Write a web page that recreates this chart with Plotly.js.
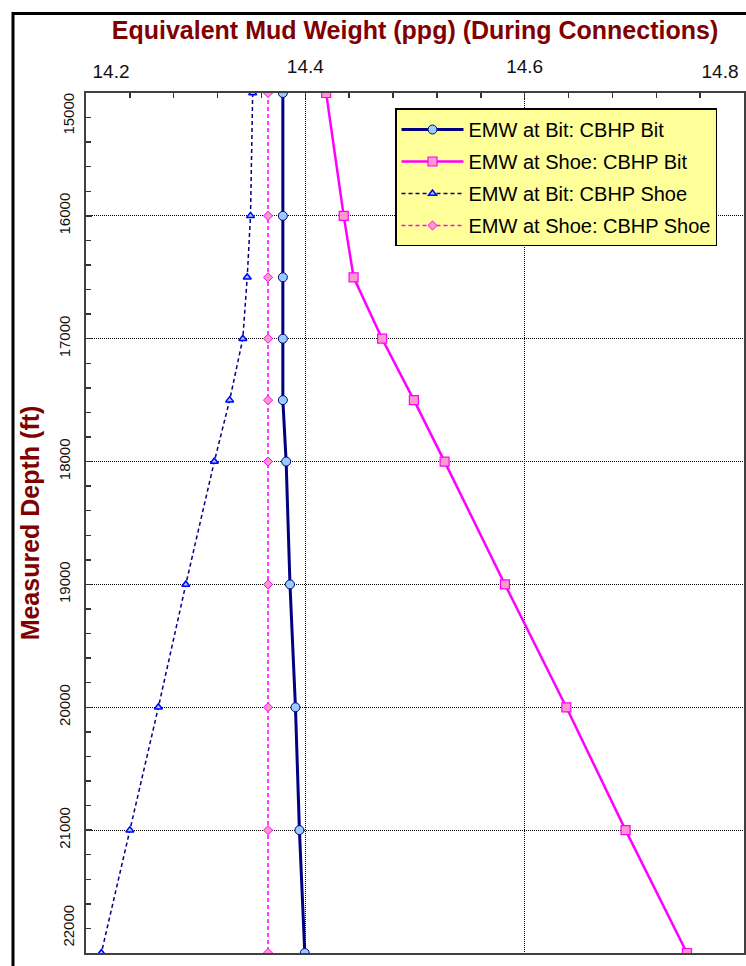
<!DOCTYPE html>
<html>
<head>
<meta charset="utf-8">
<script src="https://cdn.plot.ly/plotly-3.0.1.min.js"></script>
<style>html,body{margin:0;padding:0;background:#fff;}#chart{width:746px;height:966px;}</style>
</head>
<body>
<div id="chart"></div>
<script>
// ---- data ----
const depths = [15000, 16000, 16500, 17000, 17500, 18000, 19000, 20000, 21000, 22000];
const emwBitCbhpBit   = [14.3795, 14.3795, 14.3795, 14.3795, 14.3795, 14.3825, 14.386, 14.391, 14.3946, 14.3995];
const emwShoeCbhpBit  = [14.419, 14.435, 14.444, 14.470, 14.499, 14.527, 14.582, 14.638, 14.692, 14.748];
const emwBitCbhpShoe  = [14.352, 14.350, 14.347, 14.343, 14.331, 14.317, 14.291, 14.266, 14.240, 14.214];
const emwShoeCbhpShoe = [14.366, 14.366, 14.366, 14.366, 14.366, 14.366, 14.366, 14.366, 14.366, 14.366];
const seriesNames = ['EMW at Bit: CBHP Bit', 'EMW at Shoe: CBHP Bit', 'EMW at Bit: CBHP Shoe', 'EMW at Shoe: CBHP Shoe'];
const xInnerTicks = [14.4, 14.6];
const xEdgeTicks = [14.2, 14.8];
const yInnerTicks = [16000, 17000, 18000, 19000, 20000, 21000];
const yEdgeTicks = [15000, 22000];
const chartTitle = 'Equivalent Mud Weight (ppg) (During Connections)';
const yTitle = 'Measured Depth (ft)';

const FONT = 'Arial, "Liberation Sans", sans-serif';
const xRange = [14.2, 14.8];
const yRange = [22000, 15000];

const traces = [
  {x: emwBitCbhpBit, y: depths, name: seriesNames[0], legendgroup: 'a', mode: 'lines+markers',
   line: {color: '#000080', width: 3},
   marker: {symbol: 'circle', size: 9, color: '#99CCFF', line: {color: '#000080', width: 1}}},
  {x: emwShoeCbhpBit, y: depths, name: seriesNames[1], legendgroup: 'b', mode: 'lines+markers',
   line: {color: '#FF00FF', width: 2.5},
   marker: {symbol: 'square', size: 9, color: '#FF99CC', line: {color: '#FF00FF', width: 1.2}}},
  {x: emwBitCbhpShoe, y: depths, name: seriesNames[2], legendgroup: 'c', mode: 'lines+markers',
   line: {color: '#000080', width: 1.5, dash: '4px,3px'},
   marker: {symbol: 'triangle-up', size: 7, color: '#99CCFF', line: {color: '#0000FF', width: 1.5}}},
  {x: emwShoeCbhpShoe, y: depths, name: seriesNames[3], legendgroup: 'd', mode: 'lines+markers',
   line: {color: '#FF00FF', width: 1.5, dash: '4px,3px'},
   marker: {symbol: 'diamond', size: 7, color: '#FF99CC', line: {color: '#FF00FF', width: 1}}}
];
// empty carrier traces so the edge-label overlay axes are drawn
[['x2', 'y'], ['x3', 'y'], ['x', 'y2'], ['x', 'y3']].forEach(function (p) {
  traces.push({x: [null], y: [null], xaxis: p[0], yaxis: p[1], mode: 'markers',
               showlegend: false, hoverinfo: 'skip'});
});

const tickFontX = {family: FONT, size: 19, color: '#111'};
const tickFontY = {family: FONT, size: 15, color: '#111'};

const baseX = {range: xRange, side: 'top', zeroline: false, fixedrange: true};
const baseY = {range: yRange, zeroline: false, fixedrange: true, tickangle: -90};

const layout = {
  width: 746, height: 966,
  margin: {l: 86, r: 2, t: 92.5, b: 13, pad: 0},
  paper_bgcolor: '#fff', plot_bgcolor: '#fff',
  showlegend: true,
  xaxis: Object.assign({}, baseX, {
    tickmode: 'array', tickvals: xInnerTicks, ticktext: xInnerTicks.map(v => v.toFixed(1)),
    ticks: 'inside', ticklen: 6, tickwidth: 1.5, tickcolor: '#333',
    minor: {tickmode: 'linear', tick0: 14.2, dtick: 0.04, ticks: 'inside', ticklen: 5, tickwidth: 1.5, tickcolor: '#333', showgrid: false},
    showgrid: true, gridcolor: '#000', gridwidth: 1, griddash: '1px,1px',
    showline: true, linecolor: '#404040', linewidth: 2, mirror: true,
    tickfont: tickFontX, ticklabelstandoff: 10,
    title: {text: chartTitle, font: {family: FONT, size: 25, color: '#800000', weight: 'bold'}, standoff: 10}
  }),
  xaxis2: Object.assign({}, baseX, {
    overlaying: 'x', anchor: 'y', tickmode: 'array', tickvals: [xEdgeTicks[0]], ticktext: [xEdgeTicks[0].toFixed(1)],
    ticks: '', showgrid: false, showline: false, tickfont: tickFontX, ticklabelstandoff: 10, ticklabelshift: 25
  }),
  xaxis3: Object.assign({}, baseX, {
    overlaying: 'x', anchor: 'y', tickmode: 'array', tickvals: [xEdgeTicks[1]], ticktext: [xEdgeTicks[1].toFixed(1)],
    ticks: '', showgrid: false, showline: false, tickfont: tickFontX, ticklabelstandoff: 10, ticklabelshift: -24
  }),
  yaxis: Object.assign({}, baseY, {
    tickmode: 'array', tickvals: yInnerTicks, ticktext: yInnerTicks.map(String),
    ticks: 'inside', ticklen: 6, tickwidth: 1.5, tickcolor: '#333',
    minor: {tickmode: 'linear', tick0: 15000, dtick: 200, ticks: 'inside', ticklen: 5, tickwidth: 1.5, tickcolor: '#333', showgrid: false},
    showgrid: true, gridcolor: '#000', gridwidth: 1, griddash: '1px,1px',
    showline: true, linecolor: '#404040', linewidth: 2, mirror: true,
    tickfont: tickFontY, ticklabelstandoff: 8,
    title: {text: yTitle, font: {family: FONT, size: 25, color: '#800000', weight: 'bold'}, standoff: 9}
  }),
  yaxis2: Object.assign({}, baseY, {
    overlaying: 'y', anchor: 'x', side: 'left', tickmode: 'array', tickvals: [yEdgeTicks[0]], ticktext: [String(yEdgeTicks[0])],
    ticks: '', showgrid: false, showline: false, tickfont: tickFontY, ticklabelstandoff: 8, ticklabelshift: -23
  }),
  yaxis3: Object.assign({}, baseY, {
    overlaying: 'y', anchor: 'x', side: 'left', tickmode: 'array', tickvals: [yEdgeTicks[1]], ticktext: [String(yEdgeTicks[1])],
    ticks: '', showgrid: false, showline: false, tickfont: tickFontY, ticklabelstandoff: 8, ticklabelshift: 25
  }),
  legend: {
    x: (395 - 86) / 658, y: (953 - 108) / 860.5, xanchor: 'left', yanchor: 'top',
    bgcolor: '#FFFF99', bordercolor: '#000', borderwidth: 1.5,
    font: {family: FONT, size: 20, color: '#000'},
    itemwidth: 62, tracegroupgap: 3, traceorder: 'grouped'
  },
  shapes: [{
    type: 'rect', xref: 'paper', yref: 'paper',
    x0: (13 - 86) / 658, x1: 1.5, y0: -0.5, y1: (953 - 13) / 860.5,
    line: {color: '#000', width: 3}, fillcolor: 'rgba(0,0,0,0)', layer: 'above'
  }]
};

Plotly.newPlot('chart', traces, layout, {displayModeBar: false, staticPlot: true});
</script>
</body>
</html>
